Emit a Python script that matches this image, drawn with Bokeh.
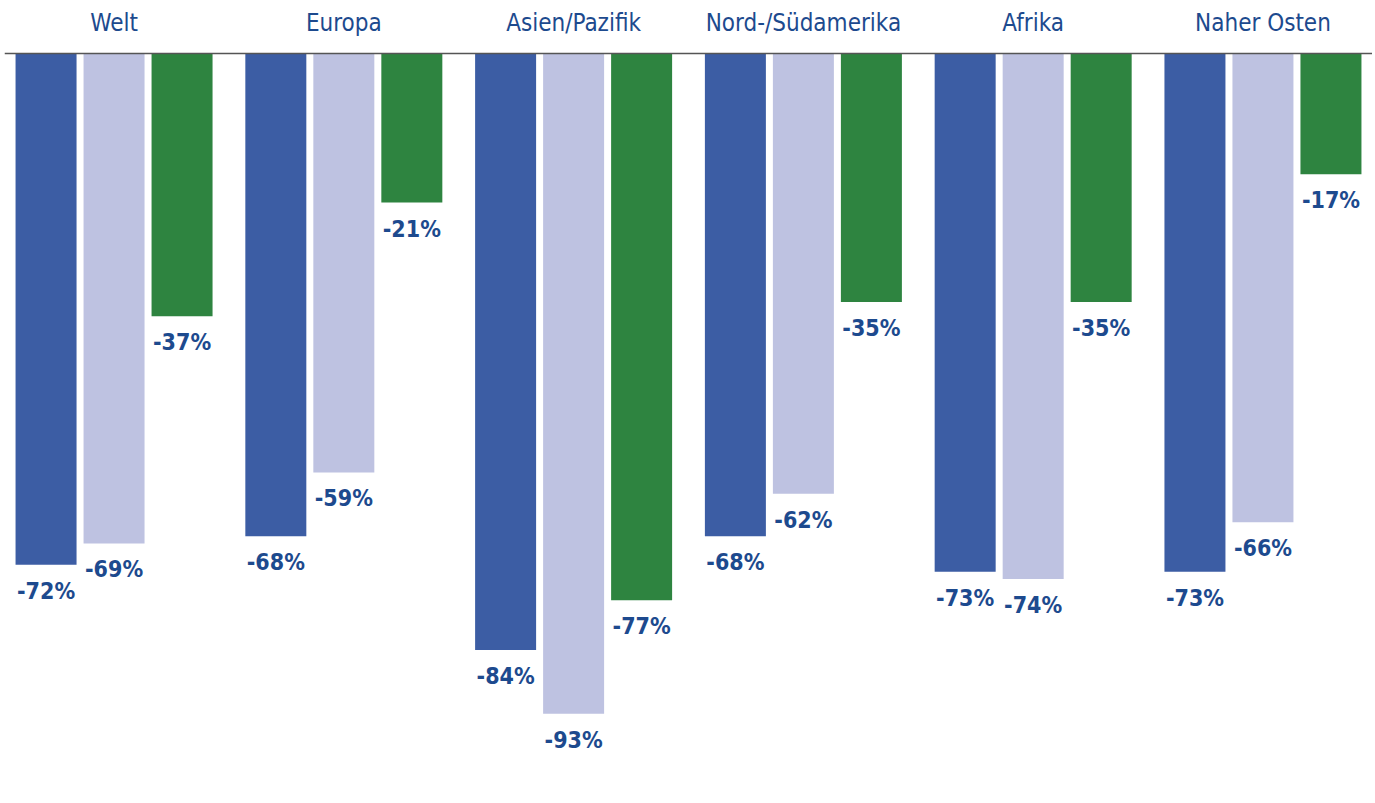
from bokeh.plotting import figure
from bokeh.models import FactorRange, Range1d, ColumnDataSource, Span
from bokeh.core.properties import value
from bokeh.embed import file_html
from bokeh.resources import INLINE

categories = ["Welt", "Europa", "Asien/Pazifik", "Nord-/Südamerika", "Afrika", "Naher Osten"]
series = ["a", "b", "c"]
series_a = [-72, -68, -84, -68, -73, -73]
series_b = [-69, -59, -93, -62, -74, -66]
series_c = [-37, -21, -77, -35, -35, -17]
colors = ["#3C5DA4", "#BEC2E1", "#2E8440"]

FONT = value("'DejaVu Sans Condensed', 'Roboto', sans-serif")
TXT = "#1D4A8E"

xs, ys, cols, labels = [], [], [], []
for i, cat in enumerate(categories):
    for j, vals in enumerate([series_a, series_b, series_c]):
        xs.append((cat, series[j]))
        ys.append(vals[i])
        cols.append(colors[j])
        labels.append(f"{vals[i]}%")

src = ColumnDataSource(dict(x=xs, top=[0] * len(xs), bottom=ys, color=cols, label=labels))

xr = FactorRange(*[(c, s) for c in categories for s in series],
                 factor_padding=0.0, group_padding=0.379,
                 range_padding=0.111, range_padding_units="absolute")
yr = Range1d(-105.2, 7.465)

p = figure(width=1372, height=800, x_range=xr, y_range=yr,
           output_backend="svg", toolbar_location=None,
           min_border=0, min_border_left=4, min_border_right=0,
           min_border_top=0, min_border_bottom=0)
p.axis.visible = False
p.grid.visible = False
p.outline_line_color = None
p.background_fill_color = "white"
p.border_fill_color = "white"

p.vbar(x="x", top="top", bottom="bottom", width=0.897, color="color", line_color=None, source=src)

p.add_layout(Span(location=0, dimension="width", line_color="#555555", line_width=1.5))

p.text(x="x", y="bottom", text="label", source=src, text_align="center",
       text_baseline="top", y_offset=13, text_font=FONT, text_font_style="bold",
       text_font_size="23px", text_color=TXT)

p.text(x=categories, y=[4.3] * len(categories), text=categories, text_align="center",
       text_baseline="alphabetic", text_font=FONT, text_font_size="24px", text_color=TXT)

open("out.html", "w").write(file_html(p, INLINE))
